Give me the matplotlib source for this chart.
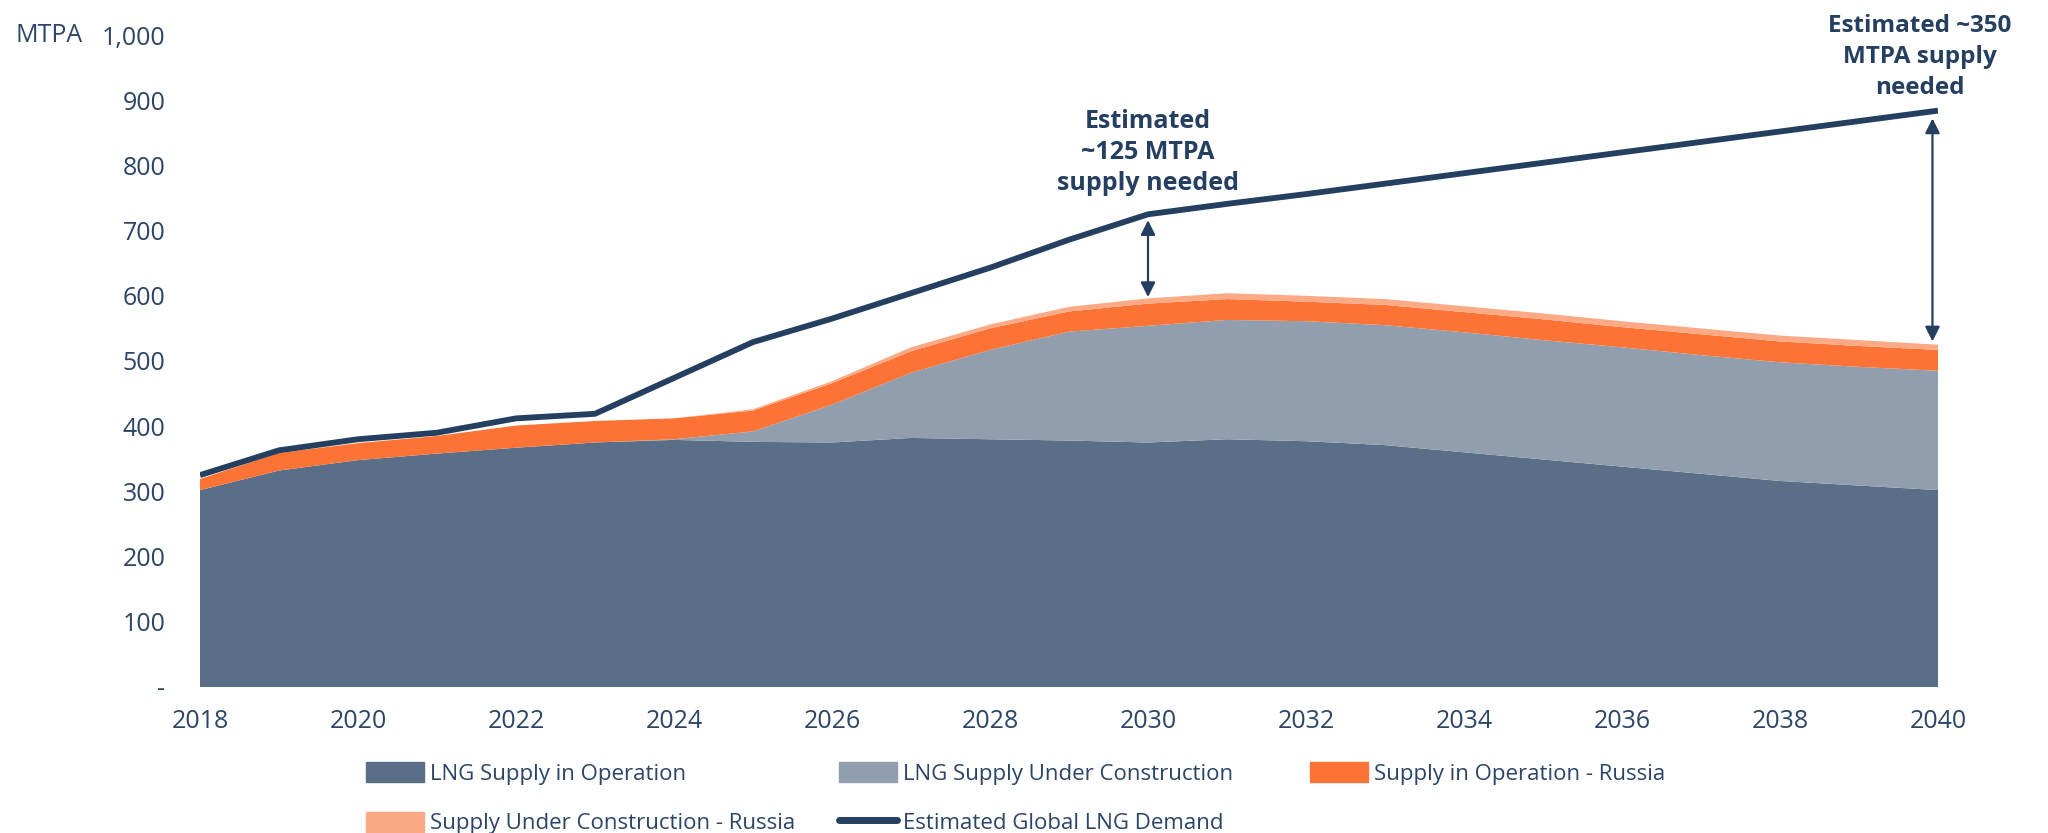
import numpy as np
import matplotlib
matplotlib.use("Agg")
import matplotlib.pyplot as plt
from matplotlib.patches import Patch
from matplotlib.lines import Line2D
from matplotlib.ticker import FuncFormatter

# data (MTPA, stacked layer thickness)
years = list(range(2018, 2041))
supply_operation = [302, 332, 348, 358, 367, 375, 379, 376, 375, 382, 380, 378,
                    375, 380, 377, 371, 360, 349, 338, 327, 316, 309, 302]
supply_construction = [0, 0, 0, 0, 0, 0, 1, 16, 58, 100, 137, 167,
                       179, 183, 184, 184, 184, 183, 183, 182, 182, 182, 183]
russia_operation = [17, 27, 26, 27, 34, 33, 32, 32, 33, 33, 33, 31,
                    34, 32, 30, 31, 31, 32, 31, 32, 32, 32, 32]
russia_construction = [0, 0, 0, 0, 0, 0, 0, 2, 3, 6, 6, 7,
                       8, 9, 9, 9, 9, 9, 9, 9, 9, 9, 8]
demand = [325, 363, 380, 390, 412, 419, 474, 529, 565, 604, 643, 686,
          725, 741, 756, 772, 788, 804, 820, 836, 852, 868, 884]

labels = ["LNG Supply in Operation", "LNG Supply Under Construction",
          "Supply in Operation - Russia", "Supply Under Construction - Russia"]
demand_label = "Estimated Global LNG Demand"

colors = ["#5A6E87", "#919EAD", "#FD7235", "#FCA985"]
navy = "#243F60"
text_col = "#2B4566"

plt.rcParams['font.family'] = ['Open Sans', 'DejaVu Sans']

fig = plt.figure(figsize=(20.48, 8.33), dpi=100)
ax = fig.add_axes([200 / 2048, 1 - 687 / 833, 1738 / 2048, 652 / 833])

ax.stackplot(years, supply_operation, supply_construction, russia_operation,
             russia_construction, colors=colors, linewidth=0, zorder=1)
ax.plot(years, demand, color=navy, linewidth=4.2, zorder=3, solid_capstyle='butt')

ax.set_xlim(2018, 2040)
ax.set_ylim(0, 1000)
ax.set_xticks(range(2018, 2041, 2))
ax.set_yticks(range(0, 1001, 100))
ax.yaxis.set_major_formatter(FuncFormatter(lambda v, p: "-" if v == 0 else f"{int(v):,}"))
ax.tick_params(axis='y', length=0, pad=25, labelsize=18, labelcolor=text_col)
ax.tick_params(axis='x', length=0, pad=16, labelsize=18, labelcolor=text_col)
for s in ax.spines.values():
    s.set_visible(False)

fig.text(15 / 2048, 1 - 35 / 833, "MTPA", fontsize=18, color=text_col, va='center', ha='left')

# supply gap arrows
arrow = dict(arrowstyle='<|-|>', color=navy, lw=1.6, mutation_scale=22, shrinkA=0, shrinkB=0)
ax.annotate("", xy=(2030, 716), xytext=(2030, 598), arrowprops=arrow, zorder=4)
ax.annotate("", xy=(2039.93, 872), xytext=(2039.93, 530), arrowprops=arrow, zorder=4)

ax.text(2030, 820, "Estimated\n~125 MTPA\nsupply needed", ha='center', va='center',
        fontsize=18, fontweight='bold', color=navy, linespacing=1.32)
fig.text(1920 / 2048, 1 - 57 / 833, "Estimated ~350\nMTPA supply\nneeded", ha='center', va='center',
         fontsize=17.5, fontweight='bold', color=navy, linespacing=1.38)

# legend, one column at a time so the columns sit where the reference has them
h = [Patch(color=c) for c in colors]
dl = Line2D([0], [0], color=navy, lw=5, solid_capstyle='round')
cols = [([h[0], h[3]], [labels[0], labels[3]], 366),
        ([h[1], dl], [labels[1], demand_label], 839),
        ([h[2]], [labels[2]], 1310)]
for hs, ns, x0 in cols:
    fig.legend(hs, ns, loc='upper left', bbox_to_anchor=(x0 / 2048, 1 - 762 / 833),
               frameon=False, fontsize=16, labelcolor=text_col, handlelength=2.6,
               handleheight=1.0, handletextpad=0.3, labelspacing=1.22,
               borderpad=0, borderaxespad=0)

fig.savefig("out.png", dpi=100)
